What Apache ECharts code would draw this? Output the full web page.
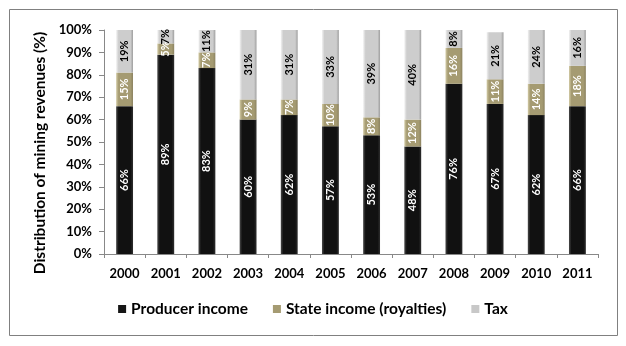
<!DOCTYPE html>
<html><head><meta charset="utf-8">
<script src="https://cdn.jsdelivr.net/npm/echarts@6/dist/echarts.min.js"></script>
<style>html,body{margin:0;padding:0;background:#fff}#c{width:626px;height:346px}</style>
</head><body><div id="c"></div>
<script>
var years = ['2000','2001','2002','2003','2004','2005','2006','2007','2008','2009','2010','2011'];
var producer = [66, 89, 83, 60, 62, 57, 53, 48, 76, 67, 62, 66];
var state = [15, 5, 7, 9, 7, 10, 8, 12, 16, 11, 14, 18];
var tax = [19, 7, 11, 31, 31, 33, 39, 40, 8, 21, 24, 16];
var yTicks = [0, 10, 20, 30, 40, 50, 60, 70, 80, 90, 100];

var FONT = 'Lato';
function grad(a, b, c) {
  return new echarts.graphic.LinearGradient(0, 0, 1, 0, [
    {offset: 0, color: a}, {offset: 0.15, color: b}, {offset: 0.85, color: b}, {offset: 1, color: c}
  ]);
}
var chart = echarts.init(document.getElementById('c'), null, {renderer: 'canvas'});
function lab(color) {
  return {show: true, position: 'inside', rotate: 90, color: color, fontFamily: FONT,
    fontWeight: 'bold', fontSize: 11, formatter: function (p) { return p.value + '%'; }};
}
chart.setOption({
  animation: false,
  backgroundColor: '#fff',
  graphic: [{type: 'rect', shape: {x: 9.5, y: 9.5, width: 608, height: 326},
    style: {fill: 'none', stroke: '#808080', lineWidth: 1}}],
  grid: {left: 104, right: 28, top: 30, bottom: 92},
  legend: {
    bottom: 24, left: 'center', itemWidth: 8, itemHeight: 8, itemGap: 25, icon: 'rect',
    textStyle: {fontFamily: FONT, fontWeight: 'bold', fontSize: 15.5, color: '#000'},
    data: [{name: 'Producer income', itemStyle: {color: '#151515'}},
           {name: 'State income (royalties)', itemStyle: {color: '#a59b72'}},
           {name: 'Tax', itemStyle: {color: '#c8c8c8'}}]
  },
  xAxis: {
    type: 'category', data: years,
    axisLine: {lineStyle: {color: '#888'}},
    axisTick: {show: true, length: 4, lineStyle: {color: '#888'}},
    axisLabel: {fontFamily: FONT, fontWeight: 'bold', fontSize: 13, color: '#000', margin: 13}
  },
  yAxis: {
    type: 'value', min: 0, max: 100, interval: 10,
    name: 'Distribution of mining revenues (%)', nameLocation: 'middle', nameGap: 56, nameRotate: 90,
    nameTextStyle: {fontFamily: FONT, fontWeight: 'bold', fontSize: 15.5, color: '#000', padding: [0, 22, 0, 0]},
    axisLine: {show: true, lineStyle: {color: '#888'}},
    axisTick: {show: true, length: 5, lineStyle: {color: '#888'}},
    splitLine: {show: false},
    axisLabel: {fontFamily: FONT, fontWeight: 'bold', fontSize: 13, color: '#000', margin: 12,
      formatter: function (v) { return yTicks.indexOf(v) >= 0 ? v + '%' : ''; }}
  },
  series: [
    {name: 'Producer income', type: 'bar', stack: 's', barWidth: '41%', data: producer,
      itemStyle: {color: grad('#4a4a4a', '#111111', '#2e2e2e')}, label: lab('#fff')},
    {name: 'State income (royalties)', type: 'bar', stack: 's', data: state,
      itemStyle: {color: grad('#d3cba6', '#a59b72', '#8b8260')}, label: lab('#fff')},
    {name: 'Tax', type: 'bar', stack: 's', data: tax,
      itemStyle: {color: grad('#f2f2f2', '#cdcdcd', '#9e9e9e')}, label: lab('#000')}
  ]
});
</script></body></html>
